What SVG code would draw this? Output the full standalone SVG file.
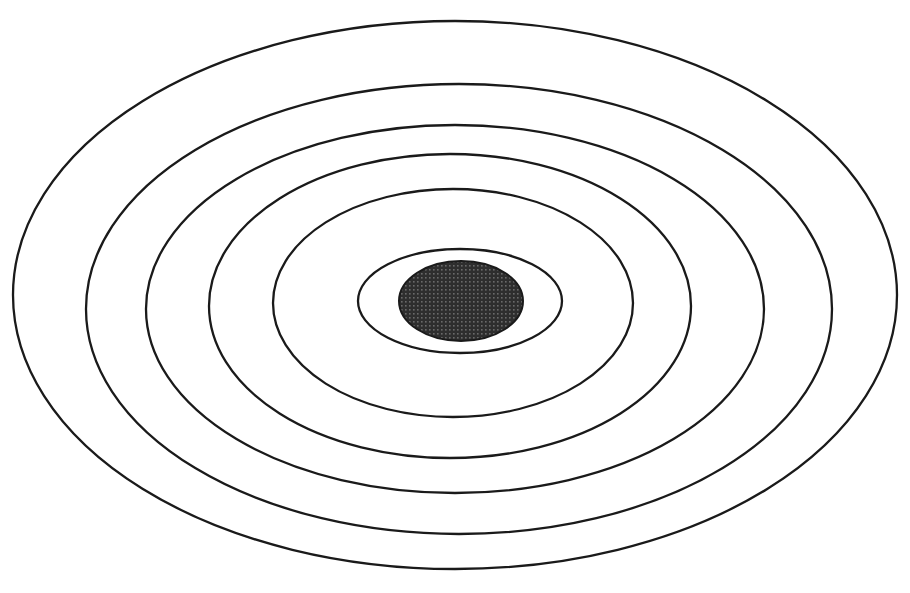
<svg xmlns="http://www.w3.org/2000/svg" width="910" height="593" viewBox="0 0 910 593">
<style>
.ring{fill:none;stroke:#1a1a1a;stroke-width:2.3}
.core{fill:url(#dots);stroke:#1a1a1a;stroke-width:2}
</style>
<defs>
<pattern id="dots" width="4" height="4" patternUnits="userSpaceOnUse">
<rect width="4" height="4" fill="#2e2e2e"/>
<rect x="1" y="1" width="1.6" height="1.6" fill="#6a6a6a"/>
</pattern>
</defs>
<rect width="910" height="593" fill="#ffffff"/>
<g id="rings">
<ellipse id="ring1" class="ring" cx="455" cy="295" rx="442" ry="274"/>
<ellipse id="ring2" class="ring" cx="459" cy="309" rx="373" ry="225"/>
<ellipse id="ring3" class="ring" cx="455" cy="309" rx="309" ry="184"/>
<ellipse id="ring4" class="ring" cx="450" cy="306" rx="241" ry="152"/>
<ellipse id="ring5" class="ring" cx="453" cy="303" rx="180" ry="114"/>
<ellipse id="ring6" class="ring" cx="460" cy="301" rx="102" ry="52"/>
</g>
<g id="center">
<ellipse class="core" cx="461" cy="301" rx="62" ry="40"/>
</g>
</svg>
